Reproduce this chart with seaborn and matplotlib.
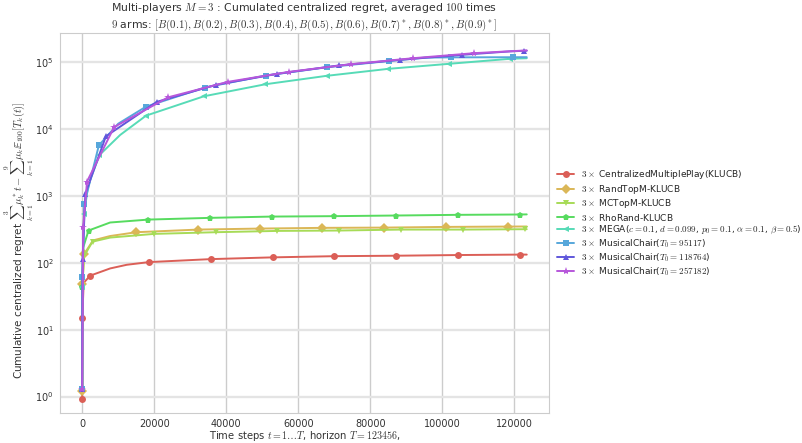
import matplotlib
matplotlib.use("Agg")
import matplotlib.pyplot as plt
import seaborn as sns

# ----------------------------
# Data (t, cumulated centralized regret)
# ----------------------------
horizon = 123456

t_central = [1, 20, 400, 2216, 7760, 12380, 18560, 35740, 52900, 70060, 87230, 104460, 121700, 123456]
r_central = [0.93, 14.7, 50, 64, 82, 93, 102, 113, 120, 125, 127, 130, 132, 132]

t_randtop = [1, 40, 550, 3000, 7760, 15040, 32220, 49310, 66570, 83740, 100900, 118200, 123456]
r_randtop = [1.2, 48, 135, 215, 250, 285, 312, 323, 331, 334, 342, 346, 347]

t_mctop = [1, 30, 500, 2860, 7760, 19950, 37030, 54200, 71390, 88640, 105800, 123000, 123456]
r_mctop = [1.3, 40, 125, 206, 237, 269, 285, 298, 302, 312, 312, 316, 316]

t_rhorand = [1, 30, 300, 1750, 7760, 18370, 35550, 52720, 69890, 87060, 104350, 121520, 123456]
r_rhorand = [1.3, 44, 170, 302, 398, 440, 467, 488, 495, 506, 518, 524, 526]

t_mega = [1, 30, 550, 1470, 2216, 4800, 10530, 17730, 33800, 50880, 67870, 85040, 101900, 118900, 123456]
r_mega = [1.3, 44, 530, 1230, 1730, 4055, 8070, 15700, 30550, 46200, 61700, 78500, 93300, 111000, 113000]

t_mc1 = [1, 50, 575, 4620, 10000, 17730, 33990, 50970, 68060, 85320, 95117, 102500, 119700, 123456]
r_mc1 = [1.3, 61.8, 748, 5650, 11900, 21400, 41200, 62400, 83000, 103000, 115500, 116500, 117000, 117200]

t_mc2 = [1, 95, 880, 6560, 20690, 37200, 54200, 71190, 88280, 105460, 118764, 122700, 123456]
r_mc2 = [1.3, 115, 1070, 7700, 25200, 45300, 66100, 88100, 107000, 127000, 143000, 146000, 146300]

t_mc3 = [1, 270, 1340, 8860, 23880, 40460, 57420, 74600, 91770, 108900, 123456]
r_mc3 = [1.3, 337, 1630, 10600, 29500, 50200, 70800, 92000, 113000, 134600, 148000]

labels = [
    r"$3\times$ CentralizedMultiplePlay(KLUCB)",
    r"$3\times$ RandTopM-KLUCB",
    r"$3\times$ MCTopM-KLUCB",
    r"$3\times$ RhoRand-KLUCB",
    r"$3\times$ MEGA($c=0.1$, $d=0.099$, $p_0=0.1$, $\alpha=0.1$, $\beta=0.5$)",
    r"$3\times$ MusicalChair($T_0=95117$)",
    r"$3\times$ MusicalChair($T_0=118764$)",
    r"$3\times$ MusicalChair($T_0=257182$)",
]

series = [
    (t_central, r_central), (t_randtop, r_randtop), (t_mctop, r_mctop),
    (t_rhorand, r_rhorand), (t_mega, r_mega), (t_mc1, r_mc1),
    (t_mc2, r_mc2), (t_mc3, r_mc3),
]

# which points carry a marker (the others only shape the line)
mark_idx = [
    [0, 1, 3, 6, 7, 8, 9, 10, 11, 12],
    [0, 1, 2, 5, 6, 7, 8, 9, 10, 11],
    [0, 1, 3, 5, 6, 7, 8, 9, 10, 11],
    [0, 1, 3, 5, 6, 7, 8, 9, 10, 11],
    [0, 1, 2, 5, 7, 8, 9, 10, 11, 12, 13],
    [0, 1, 2, 3, 5, 6, 7, 8, 9, 11, 12],
    [0, 1, 2, 3, 4, 5, 6, 7, 8, 9, 11],
    [0, 1, 2, 3, 4, 5, 6, 7, 8, 9],
]
markers = ['o', 'D', 'v', 'p', '<', 's', '^', '*']

# ----------------------------
# Style
# ----------------------------
sns.set_style("whitegrid")
plt.rcParams['font.family'] = ['DejaVu Sans']
plt.rcParams['font.size'] = 7.2
plt.rcParams['mathtext.fontset'] = 'cm'

colors = sns.hls_palette(len(series) + 1)[:len(series)]

fig = plt.figure(figsize=(8.02, 4.43), dpi=100)
ax = fig.add_axes([0.0748, 0.067, 0.6097, 0.8585])

for i, (tt, rr) in enumerate(series):
    sns.lineplot(x=tt, y=rr, ax=ax, color=colors[i], label=labels[i],
                 marker=markers[i], markevery=mark_idx[i], markersize=5 if markers[i] != '*' else 6,
                 markeredgewidth=0, linewidth=1.4, estimator=None, sort=False)

ax.set_yscale("log")
ax.set_xlim(-0.05 * horizon, 1.05 * horizon)
ax.set_ylim(10 ** -0.25, 10 ** 5.43)
ax.set_xticks([0, 20000, 40000, 60000, 80000, 100000, 120000])
ax.tick_params(axis='both', labelsize=7.0, colors='#333333', pad=1)
ax.tick_params(axis='x', pad=0.5)
ax.xaxis.grid(True, color='#cccccc', linewidth=1)
ax.yaxis.grid(True, color='#e4e4e4', linewidth=1.7)

ax.set_title("Multi-players $M=3$ : Cumulated centralized regret, averaged $100$ times\n"
             r"$9$ arms: $[B(0.1), B(0.2), B(0.3), B(0.4), B(0.5), B(0.6), B(0.7)^*, B(0.8)^*, B(0.9)^*]$",
             fontsize=7.8, color='#333333', pad=4)
ax.set_xlabel(r"Time steps $t = 1 \ldots T$, horizon $T = 123456$,", fontsize=7.2, color='#333333')
ax.xaxis.set_label_coords(0.5, -0.042)
ax.set_ylabel(r"Cumulative centralized regret $\sum_{k=1}^{3} \mu_k^* t - \sum_{k=1}^{9} \mu_k \mathbb{E}_{100}[T_k(t)]$",
              fontsize=7.5, color='#333333')
ax.yaxis.set_label_coords(-0.05, 0.455)

ax.legend(loc='center left', bbox_to_anchor=(1, 0.5), frameon=False, fontsize=6.5,
          handlelength=1.9, labelspacing=0.15)

fig.savefig("out.png", dpi=100)
